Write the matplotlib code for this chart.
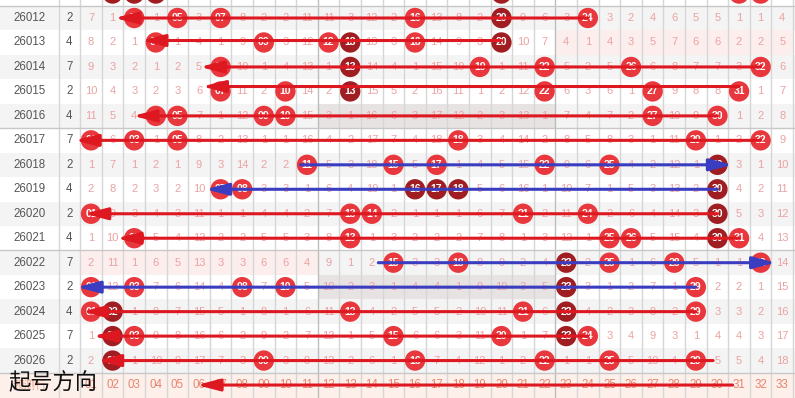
import matplotlib
matplotlib.use("Agg")
import matplotlib.pyplot as plt
from matplotlib.patches import Rectangle

plt.rcParams['font.family'] = ['Liberation Sans', 'Noto Sans CJK SC', 'DejaVu Sans']

# ---------------- data ----------------
issues = ['26012', '26013', '26014', '26015', '26016', '26017', '26018', '26019',
          '26020', '26021', '26022', '26023', '26024', '26025', '26026']
row_vals = [2, 4, 7, 2, 4, 7, 2, 4, 2, 4, 7, 2, 4, 7, 2]

# omission values per number 01..33 (0 = drawn this issue)
om_26012 = [7,1,0,1,0,3,0,8,2,2,11,11,3,12,2,0,13,8,2,0,9,6,3,0,3,2,4,6,5,5,1,1,4]
om_26013 = [8,2,1,0,1,4,1,9,0,3,12,0,0,13,3,0,14,9,3,0,10,7,4,1,4,3,5,7,6,6,2,2,5]
om_26014 = [9,3,2,1,2,5,0,10,1,4,13,1,0,14,4,1,15,10,0,1,11,0,5,2,5,0,6,8,7,7,3,0,6]
om_26015 = [10,4,3,2,3,6,0,11,2,0,14,2,0,15,5,2,16,11,1,2,12,0,6,3,6,1,0,9,8,8,0,1,7]
om_26016 = [11,5,4,0,0,7,1,12,0,0,15,3,1,16,6,3,17,12,2,3,13,1,7,4,7,2,0,10,9,0,1,2,8]
om_26017 = [0,6,0,1,0,8,2,13,1,1,16,4,2,17,7,4,18,0,3,4,14,2,8,5,8,3,1,11,0,1,2,0,9]
om_26018 = [1,7,1,2,1,9,3,14,2,2,0,5,3,18,0,5,0,1,4,5,15,0,9,6,0,4,2,12,1,0,3,1,10]
om_26019 = [2,8,2,3,2,10,0,0,3,3,1,6,4,19,1,0,0,0,5,6,16,1,10,7,1,5,3,13,2,0,4,2,11]
om_26020 = [0,9,3,4,3,11,1,1,4,4,2,7,0,0,2,1,1,1,6,7,0,2,11,0,2,6,4,14,3,0,5,3,12]
om_26021 = [1,10,0,5,4,12,2,2,5,5,3,8,0,1,3,2,2,2,7,8,1,3,12,1,0,0,5,15,4,0,0,4,13]
om_26022 = [2,11,1,6,5,13,3,3,6,6,4,9,1,2,0,3,3,0,8,9,2,4,0,2,0,1,6,0,5,1,1,0,14]
om_26023 = [0,12,0,7,6,14,4,0,7,0,5,10,2,3,1,4,4,1,9,10,3,5,0,3,1,2,7,1,0,2,2,1,15]
om_26024 = [0,0,1,8,7,15,5,1,8,1,6,11,0,4,2,5,5,2,10,11,0,6,0,4,2,3,8,2,0,3,3,2,16]
om_26025 = [1,0,0,9,8,16,6,2,9,2,7,12,1,5,0,6,6,3,11,0,1,7,0,0,3,4,9,3,1,4,4,3,17]
om_26026 = [2,0,1,10,9,17,7,3,0,3,8,13,2,6,1,0,7,4,12,1,2,0,1,1,0,5,10,4,0,5,5,4,18]
omissions = [om_26012, om_26013, om_26014, om_26015, om_26016, om_26017, om_26018,
             om_26019, om_26020, om_26021, om_26022, om_26023, om_26024, om_26025, om_26026]

# balls shown in dark red
dark_balls = [[20], [13, 20], [13], [13], [], [], [30], [16, 17, 18, 30], [30], [30],
              [23], [23], [2, 23], [2, 23], [2]]

# partially visible previous issue (26011)
prev_balls = [2, 3, 4, 20, 31, 32]
prev_dark = [2, 3, 4, 20]

header_nums = ['%02d' % n for n in range(1, 34)]
header_label = '预测行'
direction_label = '起号方向'

# arrows: (row, from number, to number, colour name); row 15 = header row
arrows = [
    (0, 24, 2.1, 'red'), (0.92, 20, 3.35, 'red'), (2, 32, 6.05, 'red'),
    (2.8, 31, 6.15, 'red'), (4, 30, 2.95, 'red'), (5, 32, 0.26, 'red'),
    (6, 10.7, 30.7, 'blue'), (7, 30, 6.3, 'blue'), (8, 30, 0.7, 'red'),
    (9, 31, 2.2, 'red'), (10, 14.3, 32.7, 'blue'), (11, 29, 0.35, 'blue'),
    (12, 29, 0.6, 'red'), (13, 24, 1.1, 'red'), (14, 29.8, 1.3, 'red'),
    (15, 30.7, 5.9, 'red'),
]

# highlighted cell blocks: (row, first number, last number, kind)
blocks = [(1, 23, 33, 'pink'), (4, 12, 22, 'gray'), (10, 1, 11, 'pink'), (11, 12, 22, 'gray')]

# ---------------- style ----------------
C_RED = '#e8383d'
C_DARK = '#a01d22'
C_OMIT = '#eba2a2'
C_TXT = '#555555'
C_HDR = '#e6846f'
C_HDR_BG = '#fdf0ea'
C_GRID = '#d6d6d6'
ARROW_C = {'red': '#de1820', 'blue': '#3a3dbf'}
BLOCK_C = {'pink': '#fdeeee', 'gray': '#e7e3e3'}

ISSUE_X = -1.85
VAL_X = 0.0
X_LEFT, X_RIGHT = -3.213, 33.59
Y_TOP, Y_BOT = -0.736, 15.53
n_rows = len(issues)

fig = plt.figure(figsize=(7.95, 3.98), dpi=100)
ax = fig.add_axes([0, 0, 1, 1])
ax.set_xlim(X_LEFT, X_RIGHT)
ax.set_ylim(Y_BOT, Y_TOP)
ax.axis('off')

# backgrounds
for r in range(-1, n_rows):
    col = '#f4f4f4' if r % 2 == 0 else '#ffffff'
    ax.add_patch(Rectangle((X_LEFT, r - 0.5), X_RIGHT - X_LEFT, 1, fc=col, ec='none', zorder=0))
ax.add_patch(Rectangle((X_LEFT, n_rows - 0.5), X_RIGHT - X_LEFT, 2, fc=C_HDR_BG, ec='none', zorder=0))
for r, a, b, kind in blocks:
    ax.add_patch(Rectangle((a - 0.5, r - 0.5), b - a + 1, 1, fc=BLOCK_C[kind], ec='none', zorder=0.5))

# grid lines
ax.axvline(-0.48, color=C_GRID, lw=1, zorder=1)
for k in range(0, 34):
    c = '#bdbdbd' if k in (11, 22) else C_GRID
    ax.axvline(k + 0.5, color=c, lw=1, zorder=1)
for yb in (-0.5, 4.5, 9.5, 14.5):
    ax.axhline(yb, color='#c8c8c8', lw=1, zorder=1)

# text and balls
for r, (iss, v, oms, dk) in enumerate(zip(issues, row_vals, omissions, dark_balls)):
    ax.text(ISSUE_X, r, iss, ha='center', va='center', fontsize=8.3, color=C_TXT, zorder=2)
    ax.text(VAL_X, r, str(v), ha='center', va='center', fontsize=8.3, color=C_TXT, zorder=2)
    bx, bc = [], []
    for k, o in enumerate(oms, start=1):
        if o == 0:
            bx.append(k)
            bc.append(C_DARK if k in dk else C_RED)
        else:
            ax.text(k, r, str(o), ha='center', va='center', fontsize=8, color=C_OMIT, zorder=2)
    ax.scatter(bx, [r] * len(bx), s=215, c=bc, linewidths=0, zorder=3)
    for k in bx:
        ax.text(k, r, '%02d' % k, ha='center', va='center', fontsize=7.6,
                color='white', fontweight='bold', zorder=4)

ax.scatter(prev_balls, [-1] * len(prev_balls), s=215,
           c=[C_DARK if k in prev_dark else C_RED for k in prev_balls], linewidths=0, zorder=3)

# header row
for k, h in enumerate(header_nums, start=1):
    ax.text(k, n_rows, h, ha='center', va='center', fontsize=8.3, color=C_HDR, zorder=2)
ax.text(ISSUE_X, n_rows, header_label, ha='center', va='center', fontsize=8.3,
        color='#f0a890', family=['Noto Sans CJK SC'], zorder=2)

# arrows
for r, x0, x1, cname in arrows:
    ax.annotate('', xy=(x1, r), xytext=(x0, r),
                arrowprops=dict(arrowstyle='-|>,head_length=1.15,head_width=0.3',
                                mutation_scale=12, lw=2.2, color=ARROW_C[cname],
                                shrinkA=0, shrinkB=0),
                zorder=5)

ax.text(-2.8, n_rows - 0.1, direction_label, ha='left', va='center', fontsize=16,
        color='#111111', family=['Noto Sans CJK SC'], zorder=6)

fig.savefig('out.png', dpi=100)
